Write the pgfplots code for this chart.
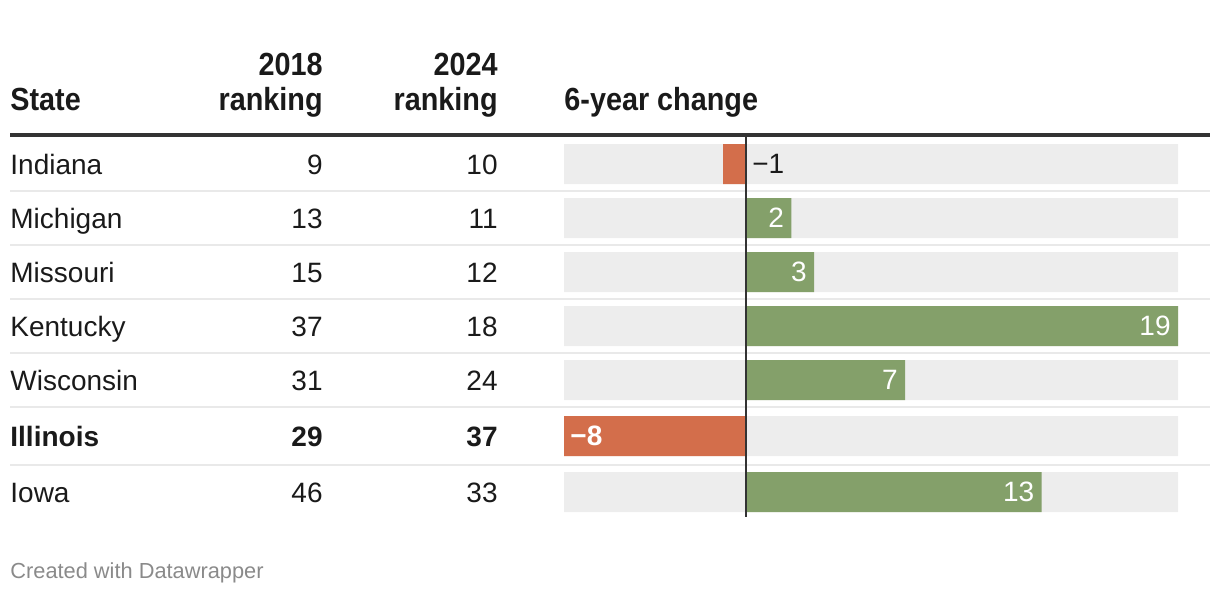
\documentclass[border=0pt]{standalone}
\usepackage{pgfplots}
\pgfplotsset{compat=1.18}
\usepackage{fontspec}
\setmainfont{Liberation Sans}
\newfontfamily\hdr{Liberation Sans}[FakeStretch=0.9]
\definecolor{neg}{HTML}{D36E4B}
\definecolor{pos}{HTML}{84A06A}
\definecolor{bg}{HTML}{EDEDED}
\definecolor{sep}{HTML}{E9E9E9}
\definecolor{dark}{HTML}{333333}
\definecolor{txt}{HTML}{1A1A1A}
\definecolor{foot}{HTML}{8A8A8A}
\newcommand{\body}{\fontsize{14}{17}\selectfont}
\begin{document}
\begin{tikzpicture}
\begin{scope}[x=0.5pt,y=-0.5pt]
\path[use as bounding box] (0,0) rectangle (1220,594);
% headers
\begin{scope}[every node/.style={inner sep=0pt, text=txt, font=\hdr\bfseries\fontsize{16}{19}\selectfont}]
\node[anchor=base west] at (10,110) {State};
\node[anchor=base east] at (323,75) {2018};
\node[anchor=base east] at (323,110) {ranking};
\node[anchor=base east] at (498,75) {2024};
\node[anchor=base east] at (498,110) {ranking};
\node[anchor=base west] at (564,110) {6-year change};
\end{scope}
% rules
\draw[dark, line width=2pt] (10,135) -- (1210,135);
\foreach \yy in {190.5,244.5,298.5,352.5,406.5,464.5}{
  \draw[sep, line width=1pt] (10,\yy) -- (1210,\yy);
}
% table text
\begin{scope}[every node/.style={inner sep=0pt, text=txt, font=\body}]
\node[anchor=base west] at (10,174) {Indiana};
\node[anchor=base east] at (323,174) {9};
\node[anchor=base east] at (498,174) {10};
\node[anchor=base west] at (10,228) {Michigan};
\node[anchor=base east] at (323,228) {13};
\node[anchor=base east] at (498,228) {11};
\node[anchor=base west] at (10,282) {Missouri};
\node[anchor=base east] at (323,282) {15};
\node[anchor=base east] at (498,282) {12};
\node[anchor=base west] at (10,336) {Kentucky};
\node[anchor=base east] at (323,336) {37};
\node[anchor=base east] at (498,336) {18};
\node[anchor=base west] at (10,390) {Wisconsin};
\node[anchor=base east] at (323,390) {31};
\node[anchor=base east] at (498,390) {24};
\node[anchor=base west, font=\body\bfseries] at (10,446) {Illinois};
\node[anchor=base east, font=\body\bfseries] at (323,446) {29};
\node[anchor=base east, font=\body\bfseries] at (498,446) {37};
\node[anchor=base west] at (10,502) {Iowa};
\node[anchor=base east] at (323,502) {46};
\node[anchor=base east] at (498,502) {33};
\end{scope}
\node[anchor=base west, inner sep=0pt, text=foot, font=\fontsize{10.9}{13}\selectfont] at (10,578) {Created with Datawrapper};
\end{scope}
\begin{axis}[at={(282pt,-297pt)}, anchor=south west, width=307pt, height=297pt, scale only axis,
  xmin=-8, xmax=19, ymin=0, ymax=594, y dir=reverse, axis lines=none, clip=false,
  xbar, bar width=20pt, bar shift=0pt, /pgf/number format/assume math mode=true]
\addplot[fill=bg, draw=none] coordinates {(19,164) (19,218) (19,272) (19,326) (19,380) (19,436) (19,492)};
\addplot[fill=bg, draw=none] coordinates {(-8,164) (-8,218) (-8,272) (-8,326) (-8,380) (-8,436) (-8,492)};
\addplot[fill=pos, draw=none, nodes near coords, nodes near coords style={anchor=east, text=white, inner sep=0pt, xshift=-3.5pt, font=\body}]
  coordinates {(2,218) (3,272) (19,326) (7,380) (13,492)};
\addplot[fill=neg, draw=none] coordinates {(-1,164) (-8,436)};
\draw[dark, line width=0.8pt] (axis cs:0,137) -- (axis cs:0,517);
\node[anchor=west, inner sep=0pt, text=txt, font=\body, xshift=3pt] at (axis cs:0,164) {−1};
\node[anchor=west, inner sep=0pt, text=white, font=\body\bfseries, xshift=3pt] at (axis cs:-8,436) {−8};
\end{axis}
\end{tikzpicture}
\end{document}
